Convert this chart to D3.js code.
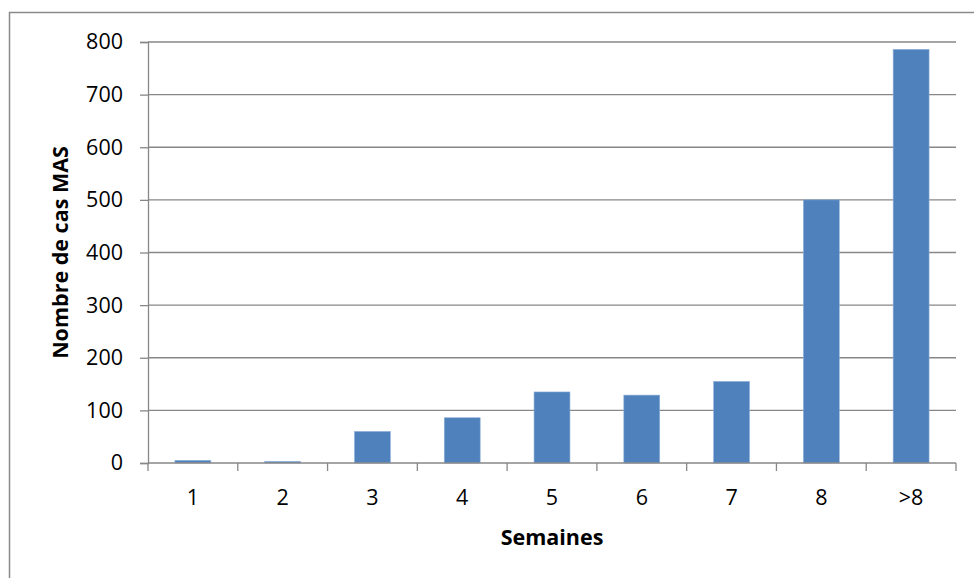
<!DOCTYPE html>
<html>
<head>
<meta charset="utf-8">
<script src="https://cdn.jsdelivr.net/npm/d3@7"></script>
<style>
  body { margin: 0; background: #fff; }
  svg { display: block; }
  text { font-family: "Open Sans", "Noto Sans", sans-serif; fill: #000; }
</style>
</head>
<body>
<svg id="chart" width="974" height="578"></svg>
<script>
const categories = ["1", "2", "3", "4", "5", "6", "7", "8", ">8"];
const values = [5, 3, 60, 86, 135, 129, 155, 500, 786];
const yTicks = [0, 100, 200, 300, 400, 500, 600, 700, 800];
const xTitle = "Semaines";
const yTitle = "Nombre de cas MAS";

(function () {
const svg = d3.select("#chart");
const W = 974, H = 578;
const pL = 148, pR = 956, pT = 42, pB = 463;
const fs = "21.5px";

// outer border
svg.append("rect").attr("x", 9.5).attr("y", 12.5).attr("width", W).attr("height", H)
  .attr("fill", "none").attr("stroke", "#8a8a8a").attr("stroke-width", 1.5);

const x = d3.scaleBand().domain(categories).range([pL, pR]).paddingInner(0.6).paddingOuter(0.3);
const xb = d3.scaleBand().domain(categories).range([pL, pR]);
const y = d3.scaleLinear().domain([0, 800]).range([pB, pT]);

// gridlines
svg.append("g").selectAll("line").data(yTicks.filter(d => d > 0)).join("line")
  .attr("x1", pL).attr("x2", pR)
  .attr("y1", d => y(d)).attr("y2", d => y(d))
  .attr("stroke", "#878787").attr("stroke-width", 1.3);

// bars
svg.append("g").selectAll("rect").data(values).join("rect")
  .attr("x", (d, i) => x(categories[i]))
  .attr("width", x.bandwidth())
  .attr("y", d => y(d))
  .attr("height", d => pB - y(d))
  .attr("fill", "#4f81bd")
  .attr("stroke", "#8fb0d8").attr("stroke-width", 0.6);

// y axis
const yAxis = d3.axisLeft(y).tickValues(yTicks).tickSize(8).tickPadding(17);
const gy = svg.append("g").attr("transform", `translate(${pL},0)`).call(yAxis);
gy.select(".domain").attr("stroke", "#878787").attr("stroke-width", 1.3);
gy.selectAll(".tick line").attr("stroke", "#878787").attr("stroke-width", 1.3);
gy.selectAll(".tick text").style("font-size", fs).attr("fill", "#000");

// x axis
const xAxis = d3.axisBottom(xb).tickSize(0).tickPadding(27);
const gx = svg.append("g").attr("transform", `translate(0,${pB})`).call(xAxis);
gx.select(".domain").attr("stroke", "#878787").attr("stroke-width", 1.3).attr("d", `M${pL},0H${pR}`);
gx.selectAll(".tick text").style("font-size", fs).attr("fill", "#000");
// category boundary ticks
const bounds = categories.map(c => xb(c)).concat([pR]);
svg.append("g").selectAll("line").data(bounds).join("line")
  .attr("x1", d => d).attr("x2", d => d)
  .attr("y1", pB).attr("y2", pB + 8)
  .attr("stroke", "#878787").attr("stroke-width", 1.3);

// titles
svg.append("text").attr("x", (pL + pR) / 2).attr("y", 545)
  .attr("text-anchor", "middle").style("font-size", fs).style("font-weight", "bold")
  .text(xTitle);
svg.append("text")
  .attr("transform", `translate(68,${(pT + pB) / 2}) rotate(-90)`)
  .attr("text-anchor", "middle").style("font-size", fs).style("font-weight", "bold")
  .text(yTitle);
})();
</script>
</body>
</html>
